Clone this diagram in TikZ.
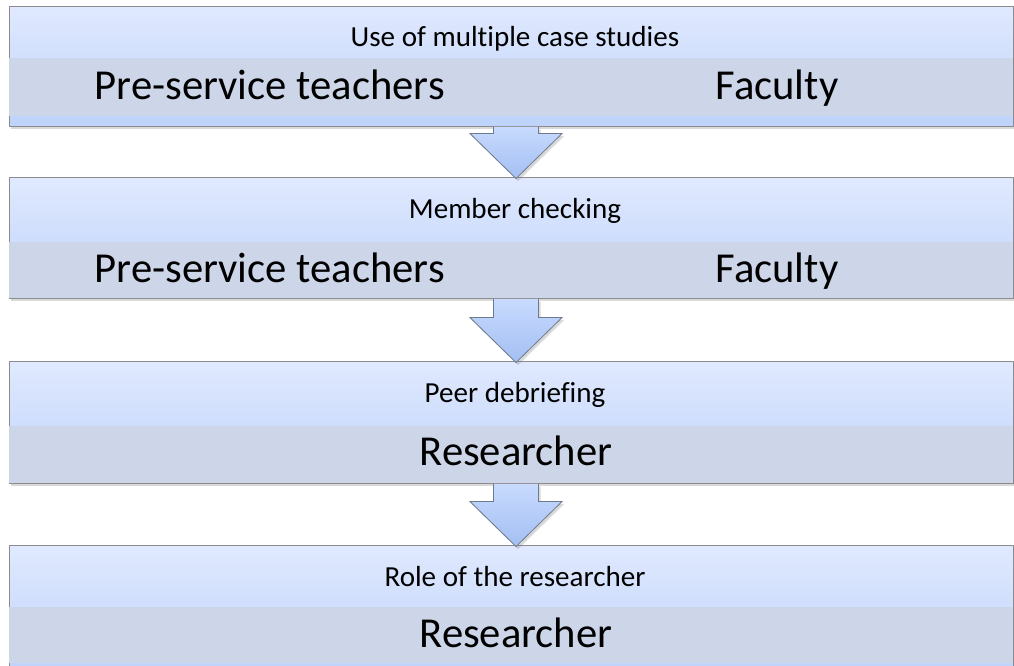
\documentclass[tikz,border=0pt]{standalone}
\usepackage{fontspec}
\setmainfont{Carlito}[Ligatures=CommonOff]
\usepackage{xcolor}
\usetikzlibrary{
    calc,
    shadows,
    positioning
}
\definecolor{stagetop}{HTML}{E0E9FE}
\definecolor{stagebot}{HTML}{BED3FB}
\definecolor{bandfill}{HTML}{CDD5E8}
\definecolor{boxline}{HTML}{8C8C8C}
\definecolor{arrowtop}{HTML}{C8DAFE}
\definecolor{arrowbot}{HTML}{A3BFF3}
\definecolor{arrowline}{HTML}{6E7A8E}

\tikzset{
    stage/.style={draw=boxline, line width=0.7pt, top color=stagetop, bottom color=stagebot,
        minimum width=753pt, inner sep=0pt,
        drop shadow={opacity=0.3, shadow xshift=1.5pt, shadow yshift=-2pt}},
    band/.style={fill=bandfill, minimum width=753pt, inner sep=0pt},
    headtxt/.style={font=\fontsize{21.8}{25}\selectfont, anchor=base},
    bigtxt/.style={font=\fontsize{32}{38}\selectfont, anchor=base},
    blockarrow/.style={draw=arrowline, line width=0.6pt, line join=miter,
        top color=arrowtop, bottom color=arrowbot,
        drop shadow={opacity=0.3, shadow xshift=1.5pt, shadow yshift=-2pt}}
}

\newcommand{\stagearrow}[2]{%
    \draw[blockarrow]
    ($(#1.south)+(-17.5,0.5)$) -- ($(#2.north)+(-17.5,-43)$)
    -- ($(#2.north)+(-41,-43)$) -- ($(#2.north)+(5,2)$)
    -- ($(#2.north)+(51,-43)$) -- ($(#2.north)+(27.5,-43)$)
    -- ($(#1.south)+(27.5,0.5)$);}

\begin{document}
\begin{tikzpicture}[x=0.75pt, y=-0.75pt]
    \useasboundingbox (0,0) rectangle (1014,665);
    \clip (0,0) rectangle (1014,665);

    % stage 1
    \node[stage, minimum height=90pt] (stage1) at (511,66) {};
    \node[band, minimum height=43.5pt] (band1) at (511,87) {};
    \node[headtxt] (head1) at (515,46) {Use of multiple case studies};
    \node[bigtxt, anchor=base west] (pst1) at (90,99) {Pre-service teachers};
    \node[bigtxt] (fac1) at (777,99) {Faculty};

    % stage 2
    \node[stage, minimum height=90.75pt] (stage2) at (511,237.5) {};
    \node[band, minimum height=42pt] (band2) at (511,270) {};
    \node[headtxt] (head2) at (515,218) {Member checking};
    \node[bigtxt, anchor=base west] (pst2) at (90,282) {Pre-service teachers};
    \node[bigtxt] (fac2) at (777,282) {Faculty};
    \stagearrow{stage1}{stage2}

    % stage 3
    \node[stage, minimum height=91.5pt] (stage3) at (511,422) {};
    \node[band, minimum height=42.75pt] (band3) at (511,454.5) {};
    \node[headtxt] (head3) at (515,402) {Peer debriefing};
    \node[bigtxt] (res3) at (516,465) {Researcher};
    \stagearrow{stage2}{stage3}

    % stage 4
    \node[stage, minimum height=96pt] (stage4) at (511,609) {};
    \node[band, minimum height=42pt] (band4) at (511,635) {};
    \node[headtxt] (head4) at (515,586) {Role of the researcher};
    \node[bigtxt] (res4) at (516,647) {Researcher};
    \stagearrow{stage3}{stage4}
\end{tikzpicture}
\end{document}
